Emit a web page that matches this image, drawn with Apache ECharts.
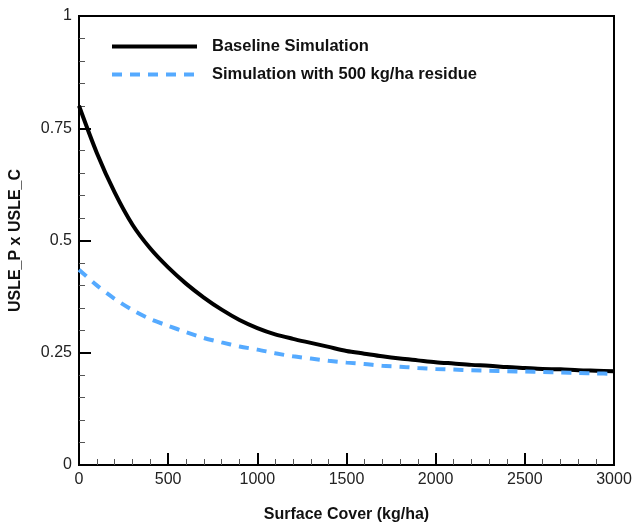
<!DOCTYPE html>
<html><head><meta charset="utf-8">
<script src="https://cdn.jsdelivr.net/npm/echarts@6/dist/echarts.min.js"></script>
<style>html,body{margin:0;padding:0;background:#fff}#c{width:636px;height:523px}</style>
</head><body><div id="c"></div>
<script>
const cover = [0,100,200,300,400,500,600,700,800,900,1000,1100,1200,1300,1400,1500,1600,1700,1800,1900,2000,2100,2200,2300,2400,2500,2600,2700,2800,2900,3000];
const baseline = [0.80,0.695,0.607,0.535,0.482,0.440,0.404,0.373,0.346,0.323,0.305,0.291,0.281,0.272,0.263,0.254,0.248,0.242,0.237,0.233,0.229,0.226,0.223,0.221,0.218,0.216,0.214,0.213,0.211,0.210,0.209];
const residue = [0.435,0.40,0.37,0.345,0.325,0.31,0.296,0.283,0.273,0.264,0.257,0.249,0.242,0.237,0.232,0.228,0.225,0.221,0.219,0.216,0.214,0.2125,0.211,0.210,0.209,0.208,0.207,0.206,0.205,0.204,0.203];
const seriesNames = ['Baseline Simulation','Simulation with 500 kg/ha residue'];
const xTitle = 'Surface Cover (kg/ha)';
const yTitle = 'USLE_P x USLE_C';

const font = 'Liberation Sans, Arial, Helvetica, sans-serif';
const blue = '#55aaff';
const chart = echarts.init(document.getElementById('c'));
chart.setOption({
  animation: false,
  grid: {left: 79, right: 22, top: 16, bottom: 58, outerBoundsMode: 'none', containLabel: false,
         show: true, borderColor: '#000', borderWidth: 2, backgroundColor: 'transparent'},
  legend: {
    left: 110, top: 38, orient: 'vertical', itemWidth: 85, itemHeight: 14, itemGap: 11, padding: 0,
    textStyle: {fontFamily: font, fontWeight: 'bold', fontSize: 16.5, color: '#111', padding: [0,0,0,10]},
    itemStyle: {opacity: 0},
    data: [
      {name: seriesNames[0], lineStyle: {width: 4, color: '#000'}},
      {name: seriesNames[1], lineStyle: {width: 4, color: blue, type: [10, 8]}}
    ]
  },
  xAxis: {
    type: 'value', min: 0, max: 3000, interval: 500,
    name: xTitle, nameLocation: 'middle', nameGap: 42,
    nameTextStyle: {fontFamily: font, fontWeight: 'bold', fontSize: 16, color: '#111'},
    axisLine: {lineStyle: {color: '#000', width: 2}},
    axisTick: {inside: true, length: 12, lineStyle: {color: '#000', width: 2}},
    minorTick: {show: true, splitNumber: 5, length: 6, lineStyle: {color: '#555', width: 1}},
    splitLine: {show: false},
    axisLabel: {fontFamily: font, fontSize: 16, color: '#222', margin: 7, formatter: v => String(v)}
  },
  yAxis: {
    type: 'value', min: 0, max: 1, interval: 0.25,
    name: yTitle, nameLocation: 'middle', nameGap: 55, nameRotate: 90,
    nameTextStyle: {fontFamily: font, fontWeight: 'bold', fontSize: 16, color: '#111'},
    axisLine: {lineStyle: {color: '#000', width: 2}},
    axisTick: {inside: true, length: 12, lineStyle: {color: '#000', width: 2}},
    minorTick: {show: true, splitNumber: 5, length: 6, lineStyle: {color: '#555', width: 1}},
    splitLine: {show: false},
    axisLabel: {fontFamily: font, fontSize: 16, color: '#222', margin: 7, formatter: v => String(v)}
  },
  series: [
    {name: seriesNames[0], type: 'line', symbol: 'none', smooth: 0.3,
     data: cover.map((x,i)=>[x, baseline[i]]),
     lineStyle: {color: '#000', width: 4}, itemStyle: {color: '#000'}},
    {name: seriesNames[1], type: 'line', symbol: 'none', smooth: 0.3,
     data: cover.map((x,i)=>[x, residue[i]]),
     lineStyle: {color: blue, width: 4, type: [10, 8]}, itemStyle: {color: blue}}
  ]
});
</script></body></html>
